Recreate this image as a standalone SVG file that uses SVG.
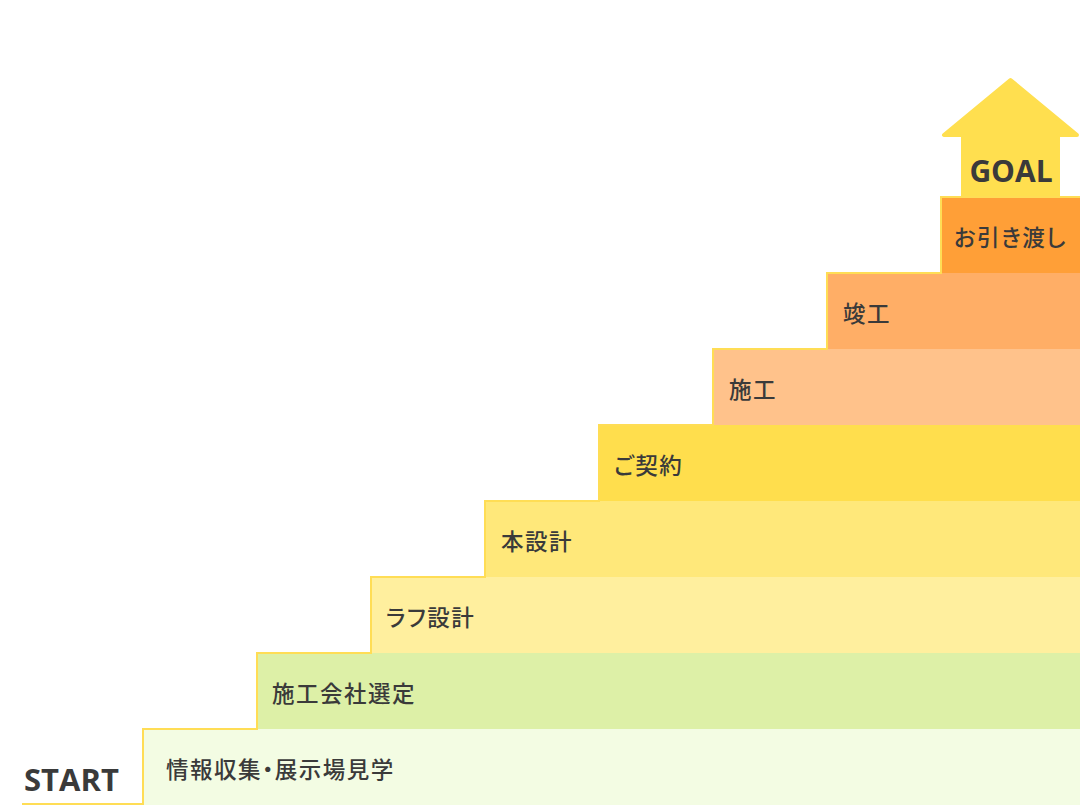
<svg xmlns="http://www.w3.org/2000/svg" width="1080" height="805" viewBox="0 0 1080 805">
<style>
.lbl{font-family:"Noto Sans CJK JP","Noto Sans",sans-serif;font-size:22.5px;font-weight:500;fill:#3a3a3a;letter-spacing:1.5px;font-feature-settings:"palt"}
.big{font-family:"Open Sans","Noto Sans",sans-serif;font-weight:700;fill:#3a3a3a}
.edge{fill:none;stroke:#FFDD55;stroke-width:2}
</style>
<rect width="1080" height="805" fill="#ffffff"/>
<g id="goal-arrow">
<path d="M1010.5,80 L944,135 L963,135 L963,198 L1058,198 L1058,135 L1077,135 Z" fill="#FFDF4F" stroke="#FFDF4F" stroke-width="4" stroke-linejoin="round"/>
<text class="big" x="1011" y="182" font-size="30" text-anchor="middle">GOAL</text>
</g>
<g id="start">
<text class="big" x="24" y="791" font-size="31">START</text>
</g>
<g id="step1"><rect x="143" y="729" width="937" height="76" fill="#F3FCE3"/><text class="lbl" x="166" y="778">情報収集・展示場見学</text></g>
<g id="step2"><rect x="257" y="653" width="823" height="76" fill="#DDF0A7"/><text class="lbl" x="272" y="702">施工会社選定</text></g>
<g id="step3"><rect x="371" y="577" width="709" height="76" fill="#FFEF9E"/><text class="lbl" x="386" y="626">ラフ設計</text></g>
<g id="step4"><rect x="485" y="501" width="595" height="76" fill="#FFE87A"/><text class="lbl" x="501" y="550">本設計</text></g>
<g id="step5"><rect x="599" y="425" width="481" height="76" fill="#FFDE4D"/><text class="lbl" x="614" y="474">ご契約</text></g>
<g id="step6"><rect x="713" y="349" width="367" height="76" fill="#FFC28B"/><text class="lbl" x="729" y="398">施工</text></g>
<g id="step7"><rect x="827" y="273" width="253" height="76" fill="#FFAE66"/><text class="lbl" x="843" y="322">竣工</text></g>
<g id="step8"><rect x="941" y="197" width="139" height="76" fill="#FF9F37"/><text class="lbl" x="954" y="246">お引き渡し</text></g>
<g id="connectors">
<path class="edge" d="M22,804 H143 V729 H257 V653 H371 V577 H485 V501 H599 V425 H713 V349 H827 V273 H941 V197 H1080"/>
</g>
</svg>
